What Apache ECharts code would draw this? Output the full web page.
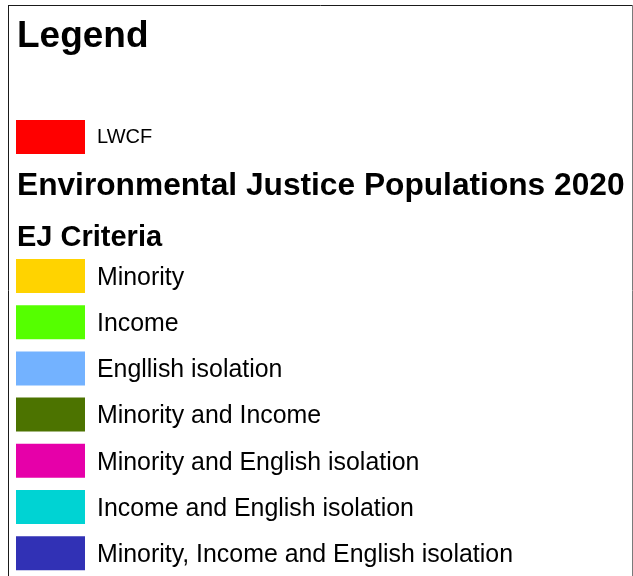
<!DOCTYPE html>
<html>
<head>
<meta charset="utf-8">
<script src="https://cdn.jsdelivr.net/npm/echarts@6/dist/echarts.min.js"></script>
<style>html,body{margin:0;padding:0;background:#fff}#c{width:633px;height:576px}</style>
</head>
<body>
<div id="c"></div>
<script>
// Legend data
var lwcfNames = ['LWCF'];
var lwcfColors = ['#FF0000'];
var ejNames = ['Minority', 'Income', 'Engllish isolation', 'Minority and Income', 'Minority and English isolation', 'Income and English isolation', 'Minority, Income and English isolation'];
var ejColors = ['#FFD300', '#55FF00', '#73B2FF', '#4C7300', '#E600A9', '#00D3D3', '#3131B5'];
var headings = ['Legend', 'Environmental Justice Populations 2020', 'EJ Criteria'];

var FONT = '"Liberation Sans", Arial, sans-serif';
var chart = echarts.init(document.getElementById('c'), null, {renderer: 'canvas'});

var allNames = lwcfNames.concat(ejNames);
var allColors = lwcfColors.concat(ejColors);
var series = allNames.map(function (n, i) {
  return {type: 'bar', name: n, data: [], itemStyle: {color: allColors[i]}};
});

function legendCfg(names, top, fs, shift) {
  return {
    data: names.map(function (n) { return {name: n, icon: 'rect'}; }),
    orient: 'vertical', left: 16, top: top, padding: 0,
    itemWidth: 69, itemHeight: 34, itemGap: 12.2,
    selectedMode: false,
    formatter: '{t|{name}}',
    textStyle: {
      fontFamily: FONT, fontSize: fs, color: '#000', padding: [0, 0, 0, 7],
      rich: {t: {fontFamily: FONT, fontSize: fs, color: '#000', padding: [shift, 0, 0, 0]}}
    }
  };
}

chart.setOption({
  animation: false,
  grid: {left: -100, top: -100, width: 10, height: 10},
  xAxis: {type: 'category', show: false, data: []},
  yAxis: {type: 'value', show: false},
  legend: [legendCfg(lwcfNames, 120, 20, 1), legendCfg(ejNames, 259, 24.9, 4)],
  series: series,
  graphic: [
    {type: 'line', shape: {x1: 8, y1: 5.5, x2: 633, y2: 5.5}, style: {stroke: '#1a1a1a', lineWidth: 1}},
    {type: 'line', shape: {x1: 8.5, y1: 5, x2: 8.5, y2: 576}, style: {stroke: '#1a1a1a', lineWidth: 1}},
    {type: 'line', shape: {x1: 632.5, y1: 5, x2: 632.5, y2: 576}, style: {stroke: '#7a7a7a', lineWidth: 1}},
    {type: 'text', style: {text: headings[0], x: 17, y: 36.5, font: 'bold 37px ' + FONT, fill: '#000', verticalAlign: 'middle'}},
    {type: 'text', style: {text: headings[1], x: 17, y: 186.5, font: 'bold 31.7px ' + FONT, fill: '#000', verticalAlign: 'middle'}},
    {type: 'text', style: {text: headings[2], x: 17, y: 238, font: 'bold 29px ' + FONT, fill: '#000', verticalAlign: 'middle'}}
  ]
});
</script>
</body>
</html>
